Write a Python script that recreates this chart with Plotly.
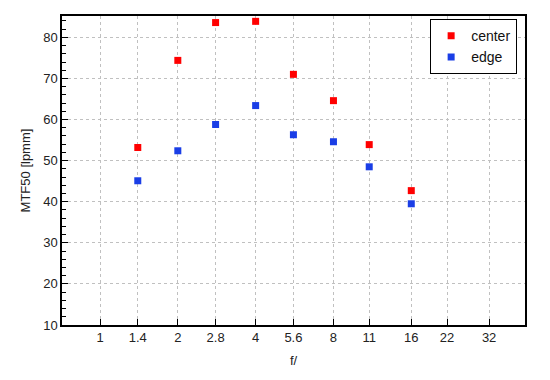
import plotly.graph_objects as go

fstops = [1.4, 2, 2.8, 4, 5.6, 8, 11, 16]
center = [53.2, 74.4, 83.6, 83.9, 71.0, 64.6, 53.9, 42.7]
edge = [45.1, 52.4, 58.8, 63.4, 56.3, 54.6, 48.5, 39.5]
tick_vals = [1, 1.4, 2, 2.8, 4, 5.6, 8, 11, 16, 22, 32]
tick_text = ["1", "1.4", "2", "2.8", "4", "5.6", "8", "11", "16", "22", "32"]

fig = go.Figure()
fig.add_trace(go.Scatter(x=fstops, y=center, mode="markers", name="center",
                         marker=dict(symbol="square", size=7, color="#ff0000", line=dict(width=0))))
fig.add_trace(go.Scatter(x=fstops, y=edge, mode="markers", name="edge",
                         marker=dict(symbol="square", size=7, color="#1a3ee6", line=dict(width=0))))

font = dict(family="Liberation Sans, Arial, sans-serif", size=13, color="#222222")
# page body has an 8px default margin, so the figure is shifted; compensate
fig.update_layout(
    width=542, height=372,
    margin=dict(l=54, r=25, t=8, b=55),
    paper_bgcolor="white", plot_bgcolor="white",
    font=font,
    showlegend=True,
    legend=dict(x=0.983, y=0.99, xanchor="right", yanchor="top",
                bordercolor="black", borderwidth=1, bgcolor="white",
                font=dict(family="Liberation Sans, Arial, sans-serif", size=14, color="#111"),
                itemwidth=30, tracegroupgap=0),
    xaxis=dict(type="log", range=[-0.147, 1.644], automargin=False,
               tickmode="array", tickvals=tick_vals, ticktext=tick_text,
               ticks="inside", ticklen=6, tickcolor="black",
               showline=True, linecolor="black", linewidth=1.5, mirror=True,
               showgrid=True, gridcolor="#c0c0c0", griddash="dot", gridwidth=1,
               zeroline=False,
               title=dict(text="f/", standoff=12, font=font)),
    yaxis=dict(range=[10, 85.2], automargin=False,
               tickmode="array", tickvals=[10, 20, 30, 40, 50, 60, 70, 80],
               ticks="inside", ticklen=6, tickcolor="black",
               minor=dict(tickmode="linear", dtick=2, tick0=0, ticks="inside", ticklen=4,
                          tickcolor="black", showgrid=False),
               showline=True, linecolor="black", linewidth=1.5, mirror=True,
               showgrid=True, gridcolor="#c0c0c0", griddash="dot", gridwidth=1,
               zeroline=False,
               title=dict(text="MTF50 [lpmm]", standoff=10, font=font)),
)
fig.write_html("out.html")
